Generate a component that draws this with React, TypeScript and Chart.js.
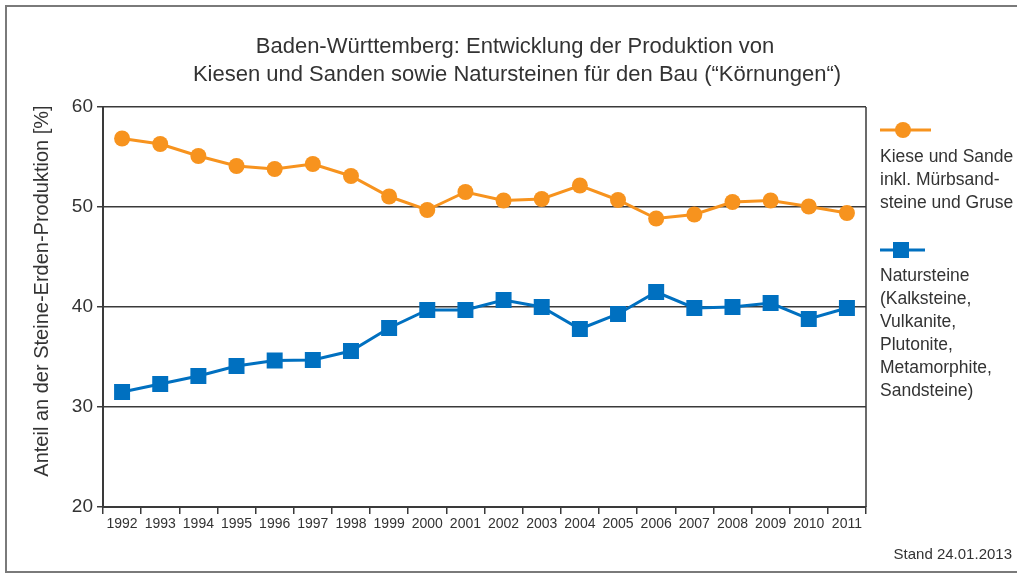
import React, { useEffect, useRef } from "react";
import { Chart, registerables } from "chart.js";

Chart.register(...registerables);

const years = ["1992","1993","1994","1995","1996","1997","1998","1999","2000","2001","2002","2003","2004","2005","2006","2007","2008","2009","2010","2011"];
const kiesSand = [56.85, 56.3, 55.1, 54.1, 53.8, 54.3, 53.1, 51.05, 49.7, 51.5, 50.65, 50.8, 52.15, 50.7, 48.85, 49.25, 50.5, 50.65, 50.05, 49.4];
const natursteine = [31.5, 32.3, 33.1, 34.1, 34.65, 34.7, 35.6, 37.9, 39.7, 39.7, 40.7, 40.0, 37.8, 39.3, 41.5, 39.9, 40.0, 40.4, 38.8, 39.9];
const titleLines = ["Baden-Württemberg: Entwicklung der Produktion von", "Kiesen und Sanden sowie Natursteinen für den Bau (“Körnungen“)"];
const yAxisTitle = "Anteil an der Steine-Erden-Produktion [%]";
const legend1 = ["Kiese und Sande", "inkl. Mürbsand-", "steine und Gruse"];
const legend2 = ["Natursteine", "(Kalksteine,", "Vulkanite,", "Plutonite,", "Metamorphite,", "Sandsteine)"];
const standText = "Stand 24.01.2013";

const ORANGE = "#F7931E";
const BLUE = "#0070C0";
const GRID = "#3a3a3a";
const TEXT = "#333333";

const decorPlugin = {
  id: "decor",
  afterDraw(chart: any) {
    const ctx = chart.ctx as CanvasRenderingContext2D;
    const { right, top, bottom } = chart.chartArea;
    ctx.save();
    // outer frame
    ctx.strokeStyle = "#7a7a7a";
    ctx.lineWidth = 2;
    ctx.strokeRect(6, 6, 1030, 566);
    // plot right border
    ctx.strokeStyle = GRID;
    ctx.lineWidth = 1.5;
    ctx.beginPath();
    ctx.moveTo(right, top);
    ctx.lineTo(right, bottom);
    ctx.stroke();
    // title
    ctx.fillStyle = TEXT;
    ctx.font = "22px 'Liberation Sans', Arial, sans-serif";
    ctx.textAlign = "center";
    ctx.textBaseline = "middle";
    ctx.fillText(titleLines[0], 515, 47);
    ctx.fillText(titleLines[1], 517, 75);
    // y axis title
    ctx.save();
    ctx.translate(42, 291);
    ctx.rotate(-Math.PI / 2);
    ctx.font = "20px 'Liberation Sans', Arial, sans-serif";
    ctx.fillText(yAxisTitle, 0, 0);
    ctx.restore();
    // legend
    ctx.textAlign = "left";
    ctx.font = "17.5px 'Liberation Sans', Arial, sans-serif";
    // series 1
    ctx.strokeStyle = ORANGE;
    ctx.lineWidth = 3;
    ctx.beginPath();
    ctx.moveTo(880, 130);
    ctx.lineTo(931, 130);
    ctx.stroke();
    ctx.fillStyle = ORANGE;
    ctx.beginPath();
    ctx.arc(903, 130, 8, 0, Math.PI * 2);
    ctx.fill();
    ctx.fillStyle = TEXT;
    legend1.forEach((t, i) => ctx.fillText(t, 880, 157 + i * 23));
    // series 2
    ctx.strokeStyle = BLUE;
    ctx.beginPath();
    ctx.moveTo(880, 250);
    ctx.lineTo(925, 250);
    ctx.stroke();
    ctx.fillStyle = BLUE;
    ctx.fillRect(893, 242, 16, 16);
    ctx.fillStyle = TEXT;
    legend2.forEach((t, i) => ctx.fillText(t, 880, 276 + i * 23));
    // stand
    ctx.font = "15px 'Liberation Sans Narrow', 'Liberation Sans', Arial, sans-serif";
    ctx.textAlign = "right";
    ctx.fillText(standText, 1012, 555);
    ctx.restore();
  },
};

export default function App() {
  const ref = useRef<HTMLCanvasElement | null>(null);
  useEffect(() => {
    document.body.style.margin = "0";
    const chart = new Chart(ref.current as HTMLCanvasElement, {
      type: "line",
      data: {
        labels: years,
        datasets: [
          {
            label: "Kiese und Sande",
            data: kiesSand,
            borderColor: ORANGE,
            backgroundColor: ORANGE,
            borderWidth: 3,
            pointStyle: "circle",
            pointRadius: 8,
            pointBorderWidth: 0,
            tension: 0,
          },
          {
            label: "Natursteine",
            data: natursteine,
            borderColor: BLUE,
            backgroundColor: BLUE,
            borderWidth: 3,
            pointStyle: "rect",
            pointRadius: 11.3,
            pointBorderWidth: 0,
            tension: 0,
          },
        ],
      },
      options: {
        animation: false,
        responsive: false,
        layout: { padding: { left: 40, right: 151, top: 107, bottom: 37 } },
        plugins: { legend: { display: false }, title: { display: false }, tooltip: { enabled: false } },
        scales: {
          x: {
            offset: true,
            grid: { offset: true, drawOnChartArea: false, drawTicks: true, tickLength: 7, color: GRID, lineWidth: 1.5 },
            border: { color: GRID, width: 2 },
            ticks: {
              color: TEXT,
              padding: 2,
              maxRotation: 0,
              autoSkip: false,
              font: { family: "'Liberation Sans Narrow', 'Liberation Sans', Arial, sans-serif", size: 14 },
            },
            afterFit(scale: any) { scale.height = 30; },
          },
          y: {
            min: 20,
            max: 60,
            ticks: {
              stepSize: 10,
              color: TEXT,
              padding: 4,
              font: { family: "'Liberation Sans', Arial, sans-serif", size: 19 },
            },
            grid: { color: GRID, lineWidth: 1.5, tickLength: 6 },
            border: { color: GRID, width: 2 },
            afterFit(scale: any) { scale.width = 63; },
          },
        },
      },
      plugins: [decorPlugin],
    } as any);
    return () => chart.destroy();
  }, []);
  return (
    <div style={{ position: "absolute", left: 0, top: 0, width: 1017, height: 574, background: "#fff" }}>
      <canvas ref={ref} width={1017} height={574} style={{ width: 1017, height: 574 }} />
    </div>
  );
}
